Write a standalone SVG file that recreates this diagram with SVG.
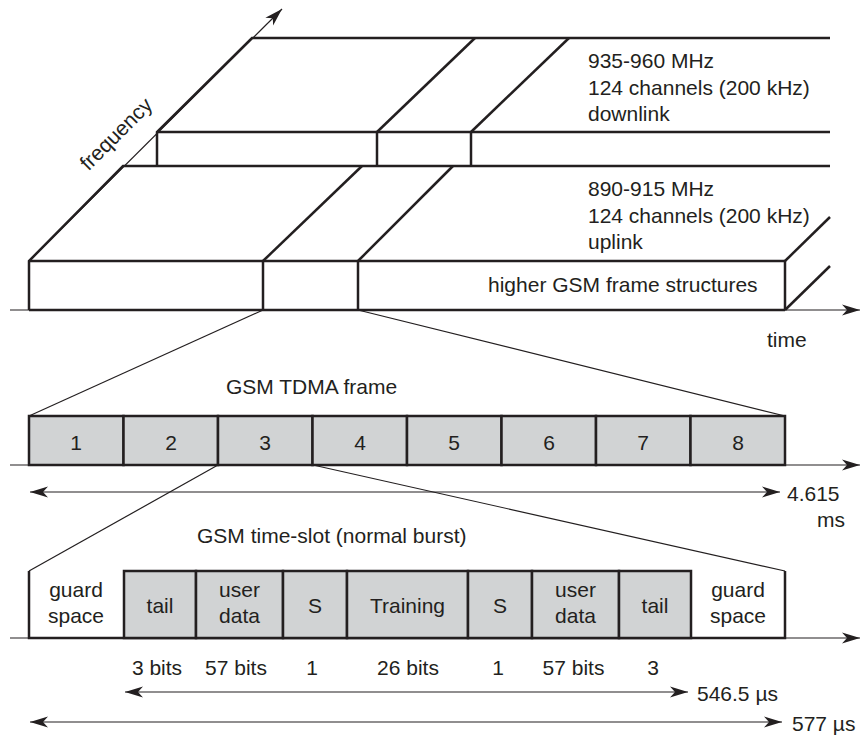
<svg xmlns="http://www.w3.org/2000/svg" width="867" height="736" viewBox="0 0 867 736">
<defs>
<marker id="ah" markerUnits="userSpaceOnUse" markerWidth="20" markerHeight="12" refX="18" refY="6" orient="auto-start-reverse" viewBox="0 0 20 12"><path d="M0,0.5 L18,6 L0,11.5 L5,6 Z" fill="#231f20"/></marker>
</defs>
<style>
.thick{stroke:#231f20;stroke-width:2.5;fill:none}
.thin{stroke:#231f20;stroke-width:1.2;fill:none}
.arr{stroke:#231f20;stroke-width:1.2;fill:none;marker-end:url(#ah)}
.darr{stroke:#231f20;stroke-width:1.2;fill:none;marker-end:url(#ah);marker-start:url(#ah)}
.slot{fill:#d1d3d4;stroke:#231f20;stroke-width:2.5}
text{font-family:"Liberation Sans",Arial,sans-serif;font-size:21px;fill:#231f20}
.m{text-anchor:middle}
</style>
<rect width="867" height="736" fill="#ffffff"/>

<g id="connectors">
  <line class="arr" x1="29" y1="261" x2="282" y2="9"/>
  <line class="arr" x1="10" y1="310" x2="860" y2="310"/>
  <line class="arr" x1="10" y1="465" x2="860" y2="465"/>
  <line class="arr" x1="10" y1="638" x2="860" y2="638"/>
  <line class="thin" x1="263" y1="310" x2="29" y2="416"/>
  <line class="thin" x1="358" y1="310" x2="785" y2="416"/>
  <line class="thin" x1="218" y1="465" x2="29" y2="571"/>
  <line class="thin" x1="313" y1="465" x2="785" y2="571"/>
  <line class="darr" x1="30" y1="492" x2="780" y2="492"/>
  <line class="darr" x1="125" y1="692" x2="688" y2="692"/>
  <line class="darr" x1="30" y1="722" x2="782" y2="722"/>
</g>

<g id="frequency-axis-label">
  <text class="m" transform="translate(121,139) rotate(-45)">frequency</text>
</g>

<g id="downlink">
  <polyline class="thick" points="157,166 157,132 252,38 830,38"/>
  <line class="thick" x1="157" y1="132" x2="830" y2="132"/>
  <line class="thick" x1="377" y1="166" x2="377" y2="132"/>
  <line class="thick" x1="471" y1="166" x2="471" y2="132"/>
  <line class="thick" x1="377" y1="132" x2="475" y2="38"/>
  <line class="thick" x1="471" y1="132" x2="569" y2="38"/>
  <text x="588" y="68">935-960 MHz</text>
  <text x="588" y="95">124 channels (200 kHz)</text>
  <text x="588" y="121">downlink</text>
</g>

<g id="uplink">
  <polyline class="thick" points="29,310 29,261 123,166 830,166"/>
  <line class="thick" x1="29" y1="261" x2="785" y2="261"/>
  <line class="thick" x1="29" y1="310" x2="785" y2="310"/>
  <line class="thick" x1="263" y1="261" x2="263" y2="310"/>
  <line class="thick" x1="358" y1="261" x2="358" y2="310"/>
  <line class="thick" x1="785" y1="261" x2="785" y2="310"/>
  <line class="thick" x1="263" y1="261" x2="362" y2="166"/>
  <line class="thick" x1="358" y1="261" x2="453" y2="166"/>
  <line class="thick" x1="785" y1="261" x2="830" y2="217"/>
  <line class="thick" x1="785" y1="310" x2="830" y2="266"/>
  <text x="588" y="196">890-915 MHz</text>
  <text x="588" y="223">124 channels (200 kHz)</text>
  <text x="588" y="249">uplink</text>
  <text x="488" y="292">higher GSM frame structures</text>
</g>

<g id="time-label"><text x="767" y="347">time</text></g>

<g id="tdma-frame">
  <text x="226" y="394">GSM TDMA frame</text>
  <rect class="slot" x="29" y="416" width="94.5" height="49"/>
  <rect class="slot" x="123.5" y="416" width="94.5" height="49"/>
  <rect class="slot" x="218" y="416" width="94.5" height="49"/>
  <rect class="slot" x="312.5" y="416" width="94.5" height="49"/>
  <rect class="slot" x="407" y="416" width="94.5" height="49"/>
  <rect class="slot" x="501.5" y="416" width="94.5" height="49"/>
  <rect class="slot" x="596" y="416" width="94.5" height="49"/>
  <rect class="slot" x="690.5" y="416" width="94.5" height="49"/>
  <text class="m" x="76" y="450">1</text>
  <text class="m" x="171" y="450">2</text>
  <text class="m" x="265" y="450">3</text>
  <text class="m" x="360" y="450">4</text>
  <text class="m" x="454" y="450">5</text>
  <text class="m" x="549" y="450">6</text>
  <text class="m" x="643" y="450">7</text>
  <text class="m" x="738" y="450">8</text>
  <text x="787" y="501">4.615</text>
  <text x="817" y="527">ms</text>
</g>

<g id="time-slot">
  <text x="197" y="543">GSM time-slot (normal burst)</text>
  <polyline class="thick" points="29,571 29,638 785,638 785,571"/>
  <rect class="slot" x="124" y="571" width="72" height="67"/>
  <rect class="slot" x="196" y="571" width="87" height="67"/>
  <rect class="slot" x="283" y="571" width="64" height="67"/>
  <rect class="slot" x="347" y="571" width="121" height="67"/>
  <rect class="slot" x="468" y="571" width="64" height="67"/>
  <rect class="slot" x="532" y="571" width="87" height="67"/>
  <rect class="slot" x="619" y="571" width="72" height="67"/>
  <text class="m" x="76" y="597">guard</text>
  <text class="m" x="76" y="623">space</text>
  <text class="m" x="160" y="613">tail</text>
  <text class="m" x="239.5" y="597">user</text>
  <text class="m" x="239.5" y="623">data</text>
  <text class="m" x="315" y="613">S</text>
  <text class="m" x="407.5" y="613">Training</text>
  <text class="m" x="500" y="613">S</text>
  <text class="m" x="575.5" y="597">user</text>
  <text class="m" x="575.5" y="623">data</text>
  <text class="m" x="655" y="613">tail</text>
  <text class="m" x="738" y="597">guard</text>
  <text class="m" x="738" y="623">space</text>
  <text class="m" x="157" y="675">3 bits</text>
  <text class="m" x="236" y="675">57 bits</text>
  <text class="m" x="312" y="675">1</text>
  <text class="m" x="408" y="675">26 bits</text>
  <text class="m" x="498" y="675">1</text>
  <text class="m" x="573.5" y="675">57 bits</text>
  <text class="m" x="653" y="675">3</text>
  <text x="697" y="701">546.5 µs</text>
  <text x="792" y="731">577 µs</text>
</g>
</svg>
